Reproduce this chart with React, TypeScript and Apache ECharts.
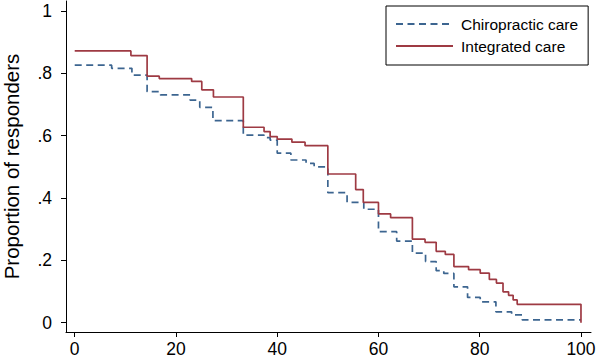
import React, { useEffect, useRef } from "react";
import * as echarts from "echarts";

const xTicks = [0, 20, 40, 60, 80, 100];
const yTicks = [0, 0.2, 0.4, 0.6, 0.8, 1];

const seriesNames = ["Chiropractic care", "Integrated care"];

// Kaplan-Meier style step data: [time, proportion from this time onward]
const chiropractic: [number, number][] = [
  [0, 0.826], [7.3, 0.816], [11.3, 0.794], [14.3, 0.741], [16.9, 0.731],
  [22.8, 0.714], [24.7, 0.691], [27.3, 0.648], [33.3, 0.602], [37.4, 0.594],
  [38.6, 0.586], [40.0, 0.544], [42.7, 0.522], [45.7, 0.511], [47.3, 0.5],
  [50.0, 0.417], [53.8, 0.386], [57.1, 0.364], [60.0, 0.292], [63.6, 0.262],
  [66.7, 0.223], [69.3, 0.196], [71.4, 0.167], [72.9, 0.158], [74.9, 0.115],
  [77.6, 0.081], [80.1, 0.067], [83.2, 0.035], [86.3, 0.025], [88.4, 0.009],
  [100, 0.009],
];

const integrated: [number, number][] = [
  [0, 0.872], [11.1, 0.857], [14.3, 0.791], [16.7, 0.783], [23.1, 0.774],
  [25.1, 0.747], [27.4, 0.724], [33.3, 0.627], [37.4, 0.613], [38.6, 0.597],
  [40.0, 0.589], [42.9, 0.579], [45.5, 0.568], [50.0, 0.477], [55.5, 0.427],
  [57.0, 0.386], [60.0, 0.349], [62.4, 0.337], [66.7, 0.268], [69.2, 0.258],
  [71.4, 0.229], [73.2, 0.219], [74.9, 0.18], [77.8, 0.17], [80.1, 0.159],
  [81.9, 0.139], [83.3, 0.127], [84.6, 0.099], [85.7, 0.088], [86.6, 0.073],
  [87.4, 0.059], [100, 0.059], [100, 0],
];

const BLUE = "#3c6590";
const RED = "#9e3a43";
const FONT = "Liberation Sans, Arial, sans-serif";

function fmtY(v: number): string {
  if (Math.abs(v) < 1e-9) return "0";
  if (Math.abs(v - 1) < 1e-9) return "1";
  return String(Math.round(v * 10) / 10).replace(/^0\./, ".");
}

export default function App() {
  const ref = useRef<HTMLDivElement>(null);
  useEffect(() => {
    if (!ref.current) return;
    const chart = echarts.init(ref.current, undefined, { renderer: "svg" });
    chart.setOption({
      animation: false,
      backgroundColor: "#ffffff",
      textStyle: { fontFamily: FONT },
      grid: {
        left: 66,
        right: 11,
        top: 1,
        bottom: 30,
        containLabel: false,
        outerBoundsMode: "none",
      },
      legend: {
        orient: "vertical",
        left: 386,
        top: 6,
        padding: [10, 10, 11, 9],
        borderColor: "#000",
        borderWidth: 1,
        borderRadius: 0,
        itemWidth: 57,
        itemHeight: 14,
        itemGap: 6,
        data: seriesNames,
        itemStyle: { opacity: 0, borderWidth: 0 },
        textStyle: { fontFamily: FONT, fontSize: 15.5, color: "#000", padding: [0, 0, 0, 3] },
      },
      xAxis: {
        type: "value",
        min: -1.72,
        max: 101.98,
        splitLine: { show: false },
        axisLine: { show: true, onZero: false, lineStyle: { color: "#000", width: 1 } },
        axisTick: { show: true, length: 5, customValues: xTicks, lineStyle: { color: "#000" } },
        axisLabel: {
          customValues: xTicks,
          fontSize: 17.5,
          color: "#000",
          fontFamily: FONT,
          margin: 8,
        },
      },
      yAxis: {
        type: "value",
        min: -0.0298,
        max: 1.032,
        name: "Proportion of responders",
        nameLocation: "middle",
        nameRotate: 90,
        nameGap: 44,
        nameTextStyle: { fontSize: 20.5, color: "#000", fontFamily: FONT },
        splitLine: { show: false },
        axisLine: { show: true, onZero: false, lineStyle: { color: "#000", width: 1 } },
        axisTick: { show: true, length: 5, customValues: yTicks, lineStyle: { color: "#000" } },
        axisLabel: {
          customValues: yTicks,
          fontSize: 17.5,
          color: "#000",
          fontFamily: FONT,
          margin: 14,
          formatter: (v: number) => fmtY(v),
        },
      },
      series: [
        {
          name: seriesNames[0],
          type: "line",
          step: "end",
          data: chiropractic,
          showSymbol: false,
          symbol: "none",
          lineStyle: { color: BLUE, width: 1.7, type: [7, 4.5] },
          itemStyle: { color: BLUE },
          z: 2,
        },
        {
          name: seriesNames[1],
          type: "line",
          step: "end",
          data: integrated,
          showSymbol: false,
          symbol: "none",
          lineStyle: { color: RED, width: 1.7, type: "solid" },
          itemStyle: { color: RED },
          z: 3,
        },
      ],
    });
    return () => chart.dispose();
  }, []);
  return (
    <div
      ref={ref}
      style={{ position: "fixed", left: 0, top: 0, width: 602, height: 362, background: "#fff" }}
    />
  );
}
